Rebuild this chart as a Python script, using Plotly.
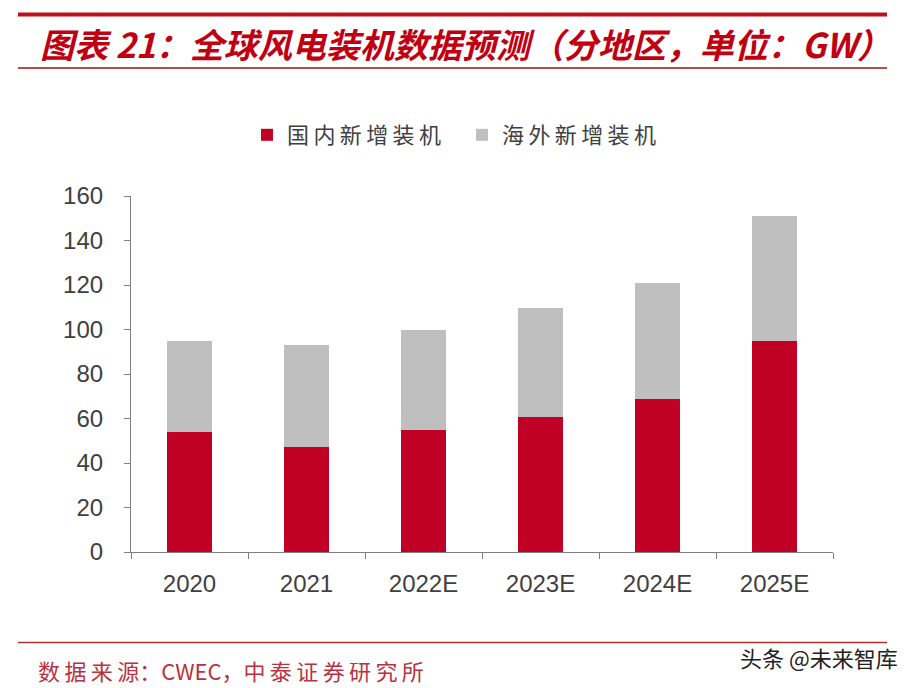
import plotly.graph_objects as go

categories = ["2020", "2021", "2022E", "2023E", "2024E", "2025E"]
domestic = [54.1, 47.4, 55.0, 60.6, 68.6, 94.7]
overseas = [40.6, 45.7, 44.6, 48.9, 52.4, 56.3]
y_ticks = [0, 20, 40, 60, 80, 100, 120, 140, 160]
series_names = ["国内新增装机", "海外新增装机"]

TS = "\u2009"  # thin space to mimic the spaced Song-style lettering

W, H = 920, 688
L, R, T, B = 131, 87, 196, 136
PW, PH = W - L - R, H - T - B

def px(x):
    return (x - L) / PW

def py(y):
    return (H - B - y) / PH

RED = "#C00025"
GRAY = "#BFBFBF"
CJK = "Noto Sans CJK SC"
NUM = "Liberation Sans, Arial, sans-serif"

fig = go.Figure()
fig.add_trace(go.Bar(x=categories, y=domestic, name=TS.join(series_names[0]),
                     marker=dict(color=RED, line=dict(width=0))))
fig.add_trace(go.Bar(x=categories, y=overseas, name=TS.join(series_names[1]),
                     marker=dict(color=GRAY, line=dict(width=0))))

fig.update_layout(
    width=W, height=H,
    margin=dict(l=L, r=R, t=T, b=B, pad=0),
    barmode="stack", bargap=0.607,
    paper_bgcolor="white", plot_bgcolor="white",
    showlegend=True,
    legend=dict(orientation="h", x=px(247), y=py(135), xanchor="left", yanchor="middle",
                font=dict(family=CJK, size=22, color="#404040"),
                entrywidth=170, traceorder="normal", bgcolor="rgba(0,0,0,0)"),
    xaxis=dict(showline=True, linecolor="#7F7F7F", linewidth=1.2,
               ticks="outside", tickson="boundaries", ticklen=6, tickcolor="#7F7F7F",
               tickfont=dict(family=NUM, size=24, color="#404040"),
               ticklabelstandoff=10, showgrid=False, zeroline=False, fixedrange=True),
    yaxis=dict(range=[0, 160], tickvals=y_ticks, showline=True, linecolor="#7F7F7F",
               linewidth=1.2, ticks="outside", ticklen=6, tickcolor="#7F7F7F",
               tickfont=dict(family=NUM, size=24, color="#404040"),
               ticklabelstandoff=16, showgrid=False, zeroline=False),
)

shapes = [
    dict(type="line", xref="paper", yref="paper", x0=px(18), x1=px(887), y0=py(14.5), y1=py(14.5),
         line=dict(color="#C0101A", width=4)),
    dict(type="line", xref="paper", yref="paper", x0=px(18), x1=px(887), y0=py(68), y1=py(68),
         line=dict(color="#A01010", width=1.3)),
    dict(type="line", xref="paper", yref="paper", x0=px(18), x1=px(887), y0=py(642.5), y1=py(642.5),
         line=dict(color="#B03030", width=1.3)),
]
fig.update_layout(shapes=shapes)

fig.add_annotation(text="<b><i>图表 21：全球风电装机数据预测（分地区，单位：GW）</i></b>",
                   xref="paper", yref="paper", x=px(38), y=py(43), xanchor="left", yanchor="middle",
                   showarrow=False, font=dict(family=CJK, size=34, color="#C00010"))
source = TS.join("数据来源") + "：CWEC，" + TS.join("中泰证券研究所")
fig.add_annotation(text=source,
                   xref="paper", yref="paper", x=px(36), y=py(670), xanchor="left", yanchor="middle",
                   showarrow=False, font=dict(family=CJK, size=22, color="#B8323F"))
fig.add_annotation(text="头条 @未来智库",
                   xref="paper", yref="paper", x=px(900), y=py(657), xanchor="right", yanchor="middle",
                   showarrow=False, font=dict(family=CJK, size=22, color="#222222"))

fig.write_html("out.html", config={"displayModeBar": False})

with open("out.html", "r", encoding="utf-8") as f:
    html = f.read()
html = html.replace("<head>", "<head><style>html,body{margin:0;padding:0;overflow:hidden;}</style>", 1)
with open("out.html", "w", encoding="utf-8") as f:
    f.write(html)
